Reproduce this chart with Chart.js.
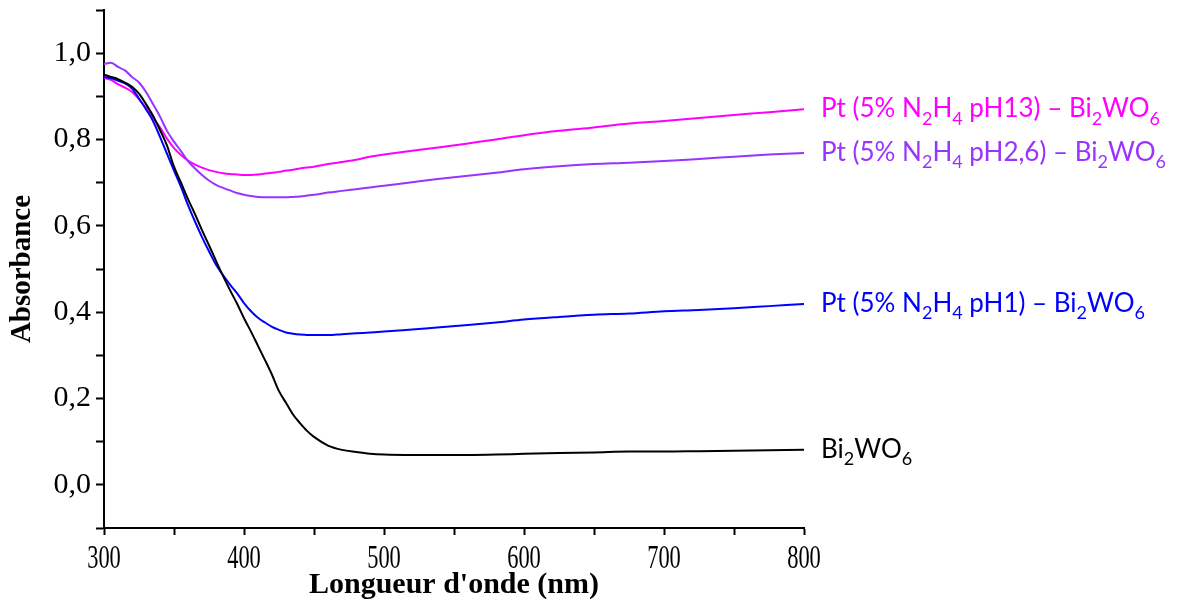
<!DOCTYPE html>
<html>
<head>
<meta charset="utf-8">
<script src="https://cdn.jsdelivr.net/npm/chart.js"></script>
<style>
  html, body { margin: 0; padding: 0; background: #fff; }
  #wrap { width: 1177px; height: 600px; }
</style>
</head>
<body>
<div id="wrap"><canvas id="absChart" width="1177" height="600"></canvas></div>
<script>
// wavelength (nm)
const wavelength = [300, 305, 310, 315, 320, 325, 330, 335, 340, 345, 350, 355, 360, 365, 370, 375, 380, 385, 390, 395,
  400, 405, 410, 415, 420, 425, 430, 435, 440, 445, 450, 460, 470, 480, 490, 500, 520, 540, 560, 580,
  600, 625, 650, 675, 700, 725, 750, 775, 800];

// absorbance
const absBi2WO6 = [0.950, 0.945, 0.940, 0.932, 0.922, 0.906, 0.882, 0.855, 0.822, 0.786, 0.737, 0.700, 0.662, 0.627, 0.590, 0.555, 0.519, 0.484, 0.451, 0.420,
  0.386, 0.355, 0.322, 0.289, 0.255, 0.217, 0.190, 0.163, 0.143, 0.125, 0.111, 0.091, 0.081, 0.076, 0.072, 0.070, 0.069, 0.069, 0.069, 0.070,
  0.072, 0.074, 0.075, 0.077, 0.077, 0.078, 0.079, 0.080, 0.081];
const absPtPH1 = [0.945, 0.942, 0.936, 0.930, 0.918, 0.895, 0.870, 0.843, 0.806, 0.767, 0.728, 0.690, 0.648, 0.610, 0.574, 0.541, 0.510, 0.486, 0.464, 0.444,
  0.421, 0.402, 0.387, 0.376, 0.366, 0.359, 0.353, 0.350, 0.348, 0.347, 0.347, 0.347, 0.349, 0.351, 0.353, 0.355, 0.360, 0.365, 0.370, 0.376,
  0.383, 0.389, 0.394, 0.397, 0.402, 0.405, 0.409, 0.414, 0.419];
const absPtPH26 = [0.975, 0.978, 0.968, 0.960, 0.945, 0.932, 0.910, 0.882, 0.853, 0.820, 0.795, 0.773, 0.750, 0.733, 0.718, 0.705, 0.695, 0.688, 0.682, 0.676,
  0.672, 0.669, 0.667, 0.666, 0.666, 0.666, 0.666, 0.667, 0.668, 0.670, 0.672, 0.677, 0.681, 0.685, 0.689, 0.693, 0.701, 0.709, 0.716, 0.723,
  0.731, 0.738, 0.743, 0.746, 0.750, 0.755, 0.760, 0.765, 0.769];
const absPtPH13 = [0.943, 0.938, 0.928, 0.920, 0.910, 0.893, 0.873, 0.850, 0.828, 0.802, 0.780, 0.764, 0.751, 0.742, 0.735, 0.729, 0.725, 0.722, 0.720, 0.719,
  0.718, 0.718, 0.719, 0.721, 0.723, 0.725, 0.728, 0.730, 0.733, 0.735, 0.737, 0.743, 0.748, 0.753, 0.760, 0.765, 0.774, 0.782, 0.791, 0.800,
  0.810, 0.820, 0.828, 0.837, 0.843, 0.850, 0.857, 0.863, 0.870];

// "_x" = subscript digit
const seriesLabels = ['Bi_2WO_6', 'Pt (5% N_2H_4 pH1) – Bi_2WO_6', 'Pt (5% N_2H_4 pH2,6) – Bi_2WO_6', 'Pt (5% N_2H_4 pH13) – Bi_2WO_6'];
const seriesColors = ['#000000', '#0000FF', '#9933FF', '#FF00FF'];
const seriesValues = [absBi2WO6, absPtPH1, absPtPH26, absPtPH13];

const xTickLabels = ['300', '400', '500', '600', '700', '800'];
const yTickLabels = ['0,0', '0,2', '0,4', '0,6', '0,8', '1,0'];

const SERIF = '"Liberation Serif", "Times New Roman", serif';
const LABEL_FONT = 'Lato, "Open Sans", sans-serif';

// x tick labels are narrow in the original, draw them squeezed
const xLabelPlugin = {
  id: 'xLabels',
  afterDraw(chart) {
    const ctx = chart.ctx, sx = chart.scales.x;
    ctx.save();
    ctx.fillStyle = '#000';
    ctx.font = '33px ' + SERIF;
    ctx.textAlign = 'center';
    ctx.textBaseline = 'alphabetic';
    xTickLabels.forEach(t => {
      const px = sx.getPixelForValue(Number(t));
      ctx.save();
      ctx.translate(px, sx.top + 40);
      ctx.scale(0.68, 1);
      ctx.fillText(t, 0, 0);
      ctx.restore();
    });
    ctx.restore();
  }
};

// curve names at the right end of each line, with subscripts
const endLabelPlugin = {
  id: 'endLabels',
  afterDatasetsDraw(chart) {
    const ctx = chart.ctx;
    const size = 26;
    ctx.save();
    ctx.textBaseline = 'alphabetic';
    ctx.textAlign = 'left';
    chart.data.datasets.forEach((ds, i) => {
      const pts = chart.getDatasetMeta(i).data;
      const last = pts[pts.length - 1];
      let x = last.x + 17;
      const y = last.y + 8;
      ctx.fillStyle = ds.borderColor;
      const parts = ds.label.split(/(_\d)/).filter(s => s.length);
      parts.forEach(p => {
        if (p[0] === '_') {
          ctx.font = Math.round(size * 0.68) + 'px ' + LABEL_FONT;
          ctx.fillText(p.slice(1), x, y + size * 0.28);
          x += ctx.measureText(p.slice(1)).width;
        } else {
          ctx.font = size + 'px ' + LABEL_FONT;
          ctx.fillText(p, x, y);
          x += ctx.measureText(p).width;
        }
      });
    });
    ctx.restore();
  }
};

new Chart(document.getElementById('absChart').getContext('2d'), {
  type: 'line',
  data: {
    datasets: seriesValues.map((vals, i) => ({
      label: seriesLabels[i],
      data: wavelength.map((w, j) => ({ x: w, y: vals[j] })),
      borderColor: seriesColors[i],
      backgroundColor: seriesColors[i],
      borderWidth: 2,
      pointRadius: 0,
      cubicInterpolationMode: 'monotone',
      fill: false
    }))
  },
  options: {
    responsive: false,
    animation: false,
    layout: { padding: { top: 10, right: 373, left: 0, bottom: 0 } },
    plugins: {
      legend: { display: false },
      tooltip: { enabled: false }
    },
    scales: {
      x: {
        type: 'linear',
        min: 300,
        max: 800,
        afterFit: s => { s.height = 72; s.paddingLeft = 0; s.paddingRight = 0; },
        ticks: { display: false, stepSize: 50, autoSkip: false },
        grid: { drawOnChartArea: false, drawTicks: true, tickLength: 7, tickColor: '#000', tickWidth: 2 },
        border: { display: true, color: '#000', width: 2 },
        title: {
          display: true,
          text: "Longueur d'onde (nm)",
          color: '#000',
          font: { family: SERIF, size: 30, weight: 'bold', lineHeight: 1 },
          padding: { top: 0, bottom: 0 }
        }
      },
      y: {
        min: -0.1,
        max: 1.1,
        afterFit: s => { s.width = 104; s.paddingTop = 0; s.paddingBottom = 0; },
        ticks: {
          stepSize: 0.1,
          autoSkip: false,
          color: '#000',
          padding: 5,
          font: { family: SERIF, size: 30, lineHeight: 1 },
          callback: v => {
            const k = Math.round(v * 10);
            return (k >= 0 && k % 2 === 0) ? yTickLabels[k / 2] : '';
          }
        },
        grid: { drawOnChartArea: false, drawTicks: true, tickLength: 8, tickColor: '#000', tickWidth: 2 },
        border: { display: true, color: '#000', width: 2 },
        title: {
          display: true,
          text: 'Absorbance',
          color: '#000',
          font: { family: SERIF, size: 29, weight: 'bold', lineHeight: 1 },
          padding: { top: 8, bottom: 0 }
        }
      }
    }
  },
  plugins: [xLabelPlugin, endLabelPlugin]
});
</script>
</body>
</html>
